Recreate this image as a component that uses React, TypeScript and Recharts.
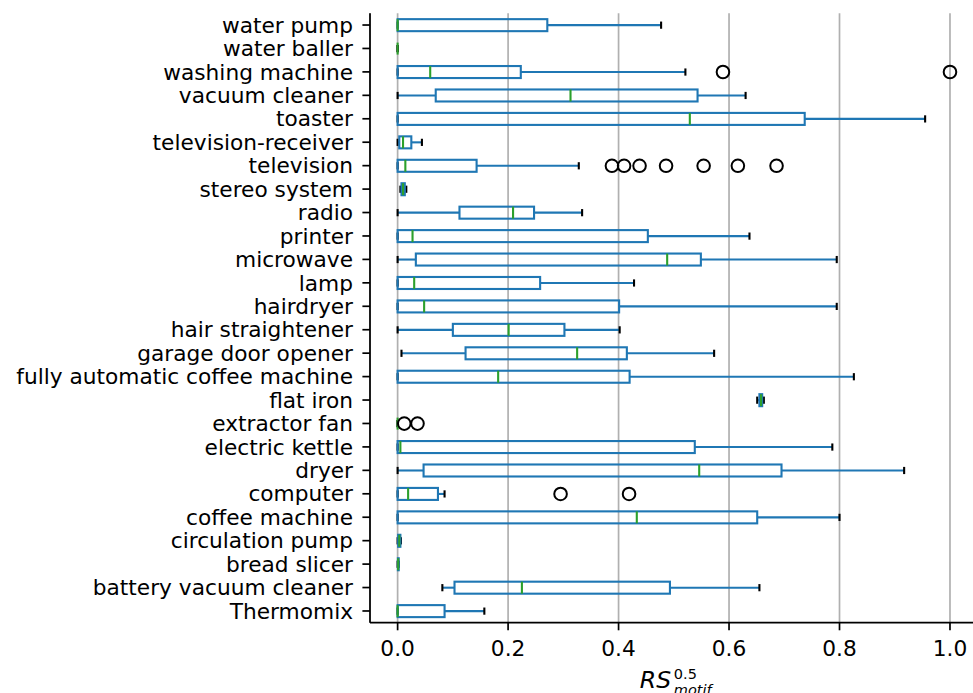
import React from "react";
import { ComposedChart, Bar, XAxis, YAxis, CartesianGrid } from "recharts";

const categories = [
  "water pump", "water baller", "washing machine", "vacuum cleaner", "toaster",
  "television-receiver", "television", "stereo system", "radio", "printer",
  "microwave", "lamp", "hairdryer", "hair straightener", "garage door opener",
  "fully automatic coffee machine", "flat iron", "extractor fan", "electric kettle",
  "dryer", "computer", "coffee machine", "circulation pump", "bread slicer",
  "battery vacuum cleaner", "Thermomix",
];

const whiskerLow = [0, 0, 0, 0, 0, 0, 0, 0.005, 0, 0, 0, 0, 0, 0, 0.007, 0, 0.651, 0, 0, 0, 0, 0, 0, 0, 0.081, 0];
const q1 = [0, 0, 0, 0.069, 0, 0.003, 0, 0.007, 0.112, 0, 0.033, 0, 0, 0.1, 0.123, 0, 0.655, 0, 0, 0.047, 0, 0, 0.001, 0.0005, 0.103, 0];
const median = [0, 0, 0.059, 0.313, 0.529, 0.0098, 0.014, 0.0098, 0.209, 0.027, 0.488, 0.03, 0.048, 0.201, 0.325, 0.182, 0.658, 0, 0.005, 0.546, 0.019, 0.433, 0.003, 0.001, 0.225, 0];
const q3 = [0.271, 0, 0.223, 0.543, 0.737, 0.0248, 0.143, 0.013, 0.247, 0.453, 0.549, 0.258, 0.401, 0.302, 0.415, 0.42, 0.66, 0, 0.538, 0.695, 0.073, 0.651, 0.005, 0.002, 0.493, 0.085];
const whiskerHigh = [0.477, 0, 0.521, 0.63, 0.955, 0.044, 0.328, 0.0157, 0.334, 0.637, 0.795, 0.428, 0.795, 0.402, 0.573, 0.826, 0.663, 0, 0.787, 0.917, 0.085, 0.8, 0.006, 0.002, 0.655, 0.157];
const outliers: number[][] = [
  [], [], [0.589, 1.0], [], [], [],
  [0.388, 0.41, 0.438, 0.486, 0.554, 0.616, 0.686],
  [], [], [], [], [], [], [], [], [], [],
  [0.012, 0.036],
  [], [], [0.295, 0.419], [], [], [], [], [],
];
const xTicks = [0, 0.2, 0.4, 0.6, 0.8, 1.0];

const XMIN = -0.05;
const XMAX = 1.05;

const data = categories.map((name, i) => ({
  name,
  lo: whiskerLow[i],
  q1: q1[i],
  med: median[i],
  q3: q3[i],
  hi: whiskerHigh[i],
  out: outliers[i],
  span: [XMIN, XMAX],
}));

const BLUE = "#1f77b4";
const GREEN = "#2ca02c";
const LW = 2.1;

const BoxShape = (props: any) => {
  const { x, y, width, height, payload } = props;
  const sx = (v: number) => x + ((v - XMIN) / (XMAX - XMIN)) * width;
  const cy = y + height / 2;
  const capHalf = height / 4 + 0.6;
  return (
    <g>
      <line x1={sx(payload.lo)} x2={sx(payload.q1)} y1={cy} y2={cy} stroke={BLUE} strokeWidth={LW} />
      <line x1={sx(payload.q3)} x2={sx(payload.hi)} y1={cy} y2={cy} stroke={BLUE} strokeWidth={LW} />
      <line x1={sx(payload.lo)} x2={sx(payload.lo)} y1={cy - capHalf} y2={cy + capHalf} stroke="#000" strokeWidth={LW} />
      <line x1={sx(payload.hi)} x2={sx(payload.hi)} y1={cy - capHalf} y2={cy + capHalf} stroke="#000" strokeWidth={LW} />
      <rect x={sx(payload.q1)} y={y} width={Math.max(0, sx(payload.q3) - sx(payload.q1))} height={height} fill="none" stroke={BLUE} strokeWidth={LW} />
      <line x1={sx(payload.med)} x2={sx(payload.med)} y1={y} y2={y + height} stroke={GREEN} strokeWidth={LW} />
      {payload.out.map((v: number, k: number) => (
        <circle key={k} cx={sx(v)} cy={cy} r={6.3} fill="none" stroke="#000" strokeWidth={2} />
      ))}
    </g>
  );
};

const XLabel = (props: any) => {
  const vb = props.viewBox || {};
  const cx = (vb.x ?? 370) + (vb.width ?? 607.6) / 2;
  const x0 = cx - 34;
  return (
    <g fontFamily="DejaVu Sans" fill="#000">
      <text x={x0} y={688} fontSize={23.5} fontStyle="italic">RS</text>
      <text x={x0 + 34} y={679} fontSize={14.5}>0.5</text>
      <text x={x0 + 34} y={695} fontSize={14.5} fontStyle="italic">motif</text>
    </g>
  );
};

export default function App() {
  return (
    <div style={{ position: "absolute", left: 0, top: 0, width: 973, height: 693, overflow: "hidden", background: "#fff" }}>
      <ComposedChart
        width={1000}
        height={693}
        data={data}
        layout="vertical"
        margin={{ top: 13.3, right: 22.4, bottom: 0, left: 0 }}
        barCategoryGap="25%"
      >
        <CartesianGrid horizontal={false} vertical={true} stroke="#b0b0b0" strokeWidth={1.7} />
        <XAxis
          type="number"
          dataKey="lo"
          domain={[XMIN, XMAX]}
          allowDataOverflow
          ticks={xTicks}
          tickFormatter={(v: number) => v.toFixed(1)}
          height={70.3}
          tickSize={7.6}
          tickMargin={10.3}
          axisLine={{ stroke: "#000", strokeWidth: 1.7 }}
          tickLine={{ stroke: "#000", strokeWidth: 1.7 }}
          tick={{ fill: "#000", fontSize: 21.7, fontFamily: "DejaVu Sans" }}
          label={{ content: XLabel }}
        />
        <XAxis
          xAxisId="top"
          orientation="top"
          type="number"
          domain={[XMIN, XMAX]}
          allowDataOverflow
          height={0}
          tick={false}
          tickLine={false}
          axisLine={{ stroke: "#000", strokeWidth: 1.7 }}
        />
        <YAxis
          type="category"
          dataKey="name"
          width={370}
          interval={0}
          tickSize={7.6}
          tickMargin={9.4}
          axisLine={{ stroke: "#000", strokeWidth: 1.7 }}
          tickLine={{ stroke: "#000", strokeWidth: 1.7 }}
          tick={{ fill: "#000", fontSize: 21.7, fontFamily: "DejaVu Sans" }}
        />
        <Bar dataKey="span" shape={BoxShape} isAnimationActive={false} />
      </ComposedChart>
    </div>
  );
}
